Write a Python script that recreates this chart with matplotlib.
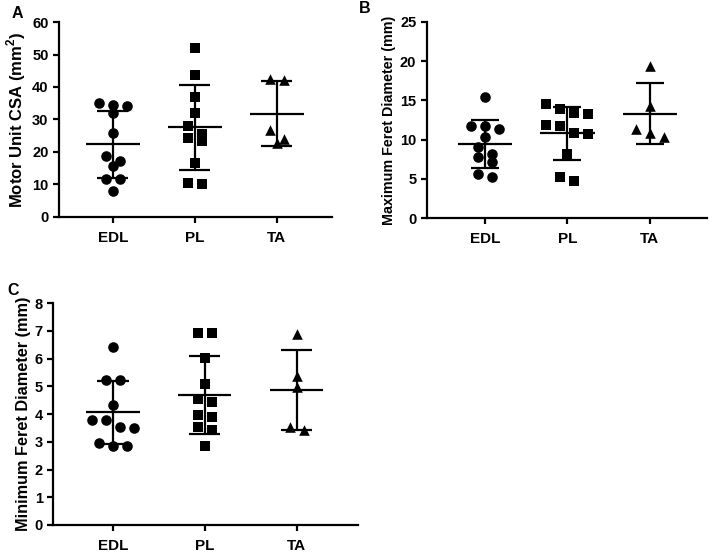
import numpy as np
import matplotlib
matplotlib.use("Agg")
import matplotlib.pyplot as plt

plt.rcParams['font.family'] = ['Liberation Sans', 'DejaVu Sans']
plt.rcParams['font.weight'] = 'bold'
plt.rcParams['mathtext.fontset'] = 'custom'
plt.rcParams['mathtext.rm'] = 'Liberation Sans:bold'
plt.rcParams['mathtext.bf'] = 'Liberation Sans:bold'

groups = ['EDL', 'PL', 'TA']
markers = ['o', 's', '^']

# panel A: motor unit CSA (mm^2)
csa_edl = [34.5, 34.0, 35.0, 31.9, 25.9, 17.2, 18.7, 15.6, 11.5, 11.6, 7.9]
csa_pl = [52.0, 43.7, 37.0, 31.9, 28.0, 24.4, 25.4, 23.2, 16.7, 10.5, 10.0]
csa_ta = [42.5, 42.2, 26.8, 23.9, 22.6]
csa_mean = [22.3, 27.7, 31.8]
csa_sd_hi = [32.6, 40.7, 41.7]
csa_sd_lo = [11.8, 14.4, 21.9]

# panel B: maximum feret diameter (mm)
maxf_edl = [15.4, 11.8, 11.7, 11.3, 10.4, 9.1, 8.2, 7.8, 7.2, 5.6, 5.2]
maxf_pl = [13.9, 13.4, 14.5, 13.3, 11.7, 11.9, 10.9, 10.7, 8.2, 5.3, 4.8]
maxf_ta = [19.4, 14.3, 11.4, 10.8, 10.4]
maxf_mean = [9.4, 10.8, 13.3]
maxf_sd_hi = [12.5, 14.1, 17.2]
maxf_sd_lo = [6.4, 7.4, 9.5]

# panel C: minimum feret diameter (mm)
minf_edl = [6.41, 5.23, 5.24, 4.33, 3.79, 3.80, 3.55, 3.51, 2.95, 2.83, 2.84]
minf_pl = [6.92, 6.93, 6.02, 5.09, 4.45, 4.54, 3.97, 3.91, 3.55, 3.41, 2.83]
minf_ta = [6.90, 5.38, 4.99, 3.55, 3.41]
minf_mean = [4.07, 4.69, 4.87]
minf_sd_hi = [5.20, 6.08, 6.32]
minf_sd_lo = [2.91, 3.29, 3.41]


def swarm(ax, values, xc, row_px, step_px):
    # group points into rows (in display pixels) and spread each row sideways
    ys = ax.transData.transform([(xc, v) for v in values])[:, 1]
    order = list(np.argsort(-ys))
    offs = np.zeros(len(values))
    rows = []
    for i in order:
        if rows and ys[rows[-1][0]] - ys[i] < row_px:
            rows[-1].append(i)
        else:
            rows.append([i])
    for row in rows:
        n = len(row)
        for j, i in enumerate(row):
            offs[i] = (j - (n - 1) / 2) * step_px
    x0 = ax.transData.transform((xc, 0))[0]
    inv = ax.transData.inverted()
    return [inv.transform((x0 + o, 0))[0] for o in offs]


def panel(fig, rect, data, mean, hi, lo, ylim, yticks, ylabel, ylsize,
          xlim, mw, cw, letter, letter_xy):
    ax = fig.add_axes(rect)
    ax.set_xlim(*xlim)
    ax.set_ylim(*ylim)
    for i, vals in enumerate(data):
        xs = swarm(ax, vals, i, 10.0, 14.0)
        ax.scatter(xs, vals, marker=markers[i], s=58, color='black', zorder=3, linewidths=0)
        ax.hlines(mean[i], i - mw, i + mw, color='black', lw=1.6, zorder=2)
        ax.vlines(i, lo[i], hi[i], color='black', lw=1.6, zorder=2)
        ax.hlines([lo[i], hi[i]], i - cw, i + cw, color='black', lw=1.6, zorder=2)
    ax.set_yticks(yticks)
    ax.set_xticks(range(len(groups)))
    ax.set_xticklabels(groups, fontsize=11, fontweight='bold')
    ax.tick_params(axis='y', labelsize=10.5, width=1.6, length=4)
    ax.tick_params(axis='x', width=1.6, length=4, pad=6)
    for lab in ax.get_yticklabels():
        lab.set_fontweight('bold')
    ax.spines['top'].set_visible(False)
    ax.spines['right'].set_visible(False)
    ax.spines['left'].set_linewidth(1.6)
    ax.spines['bottom'].set_linewidth(1.6)
    ax.set_ylabel(ylabel, fontsize=ylsize, fontweight='bold', labelpad=3)
    fig.text(letter_xy[0], letter_xy[1], letter, fontsize=11.5, fontweight='bold', ha='left', va='center')
    return ax


fig = plt.figure(figsize=(7.14, 5.56), dpi=100)

panel(fig, [0.0826, 0.6103, 0.382, 0.350], [csa_edl, csa_pl, csa_ta],
      csa_mean, csa_sd_hi, csa_sd_lo, (0, 60), range(0, 61, 10),
      r'Motor Unit CSA (mm$^{2}$)', 12, (-0.655, 2.67), 0.33, 0.19, 'A', (0.016, 0.976))
panel(fig, [0.5976, 0.6074, 0.392, 0.3535], [maxf_edl, maxf_pl, maxf_ta],
      maxf_mean, maxf_sd_hi, maxf_sd_lo, (0, 25), range(0, 26, 5),
      'Maximum Feret Diameter (mm)', 10.3, (-0.707, 2.69), 0.33, 0.17, 'B', (0.503, 0.985))
panel(fig, [0.0747, 0.0558, 0.4268, 0.399], [minf_edl, minf_pl, minf_ta],
      minf_mean, minf_sd_hi, minf_sd_lo, (0, 8), range(0, 9),
      'Minimum Feret Diameter (mm)', 11.7, (-0.65, 2.67), 0.29, 0.17, 'C', (0.010, 0.478))

fig.savefig('out.png', dpi=100)
